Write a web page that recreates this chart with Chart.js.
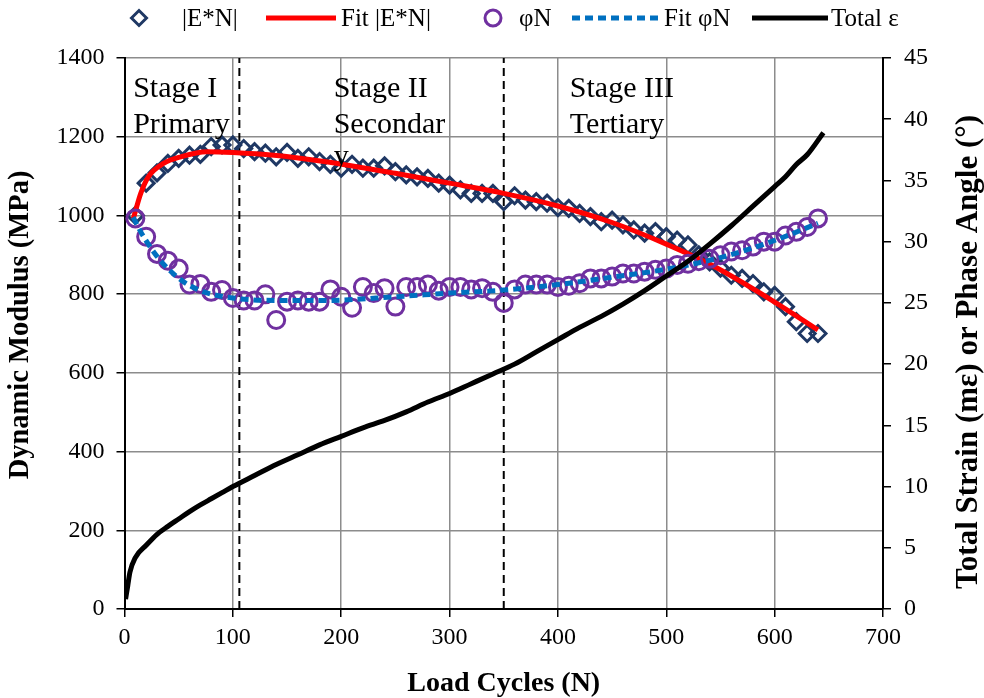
<!DOCTYPE html>
<html><head><meta charset="utf-8">
<script src="https://cdn.jsdelivr.net/npm/chart.js@4.4.1/dist/chart.umd.min.js"></script>
<style>html,body{margin:0;padding:0;background:#fff}#wrap{width:984px;height:698px}</style>
</head><body><div id="wrap"><canvas id="c" width="984" height="698"></canvas></div>
<script>
// ---------- DATA ----------
const cycles = [10,20,30,40,50,60,70,80,90,100,110,120,130,140,150,160,170,180,190,200,
  210,220,230,240,250,260,270,280,290,300,310,320,330,340,350,360,370,380,390,400,
  410,420,430,440,450,460,470,480,490,500,510,520,530,540,550,560,570,580,590,600,
  610,620,630,640];
const modulus = [1000,1082,1108,1132,1145,1153,1155,1175,1179,1179,1170,1162,1158,1149,1160,1145,1149,1137,1130,1120,
  1130,1120,1120,1126,1111,1103,1098,1094,1082,1077,1065,1056,1056,1056,1035,1050,1039,1035,1031,1020,
  1018,1005,997,984,988,976,963,955,959,946,937,925,900,882,866,848,840,827,806,797,
  768,730,700,700];
const phaseAngle = [31.9,30.4,29.0,28.45,27.8,26.5,26.55,25.9,26.05,25.4,25.2,25.2,25.7,23.6,25.1,25.2,25.1,25.1,26.1,25.5,
  24.6,26.3,25.8,26.2,24.7,26.3,26.3,26.5,26.0,26.3,26.3,26.1,26.2,25.9,25.0,26.1,26.5,26.5,26.5,26.3,
  26.4,26.6,27.0,27.0,27.15,27.4,27.4,27.55,27.7,27.8,28.1,28.2,28.4,28.6,28.9,29.2,29.3,29.6,30.0,30.0,
  30.5,30.8,31.2,31.9];
const fitModCycles = [8,10,15,22,36,52,76,100,138,184,250,300,350,400,450,500,543,600,640];
const fitModValues = [990,1010,1056,1098,1132,1149,1162,1160,1153,1137,1107,1082,1056,1024,982,927,872,780,709];
const fitPhaseCycles = [8,15,22,30,40,55,73,100,140,185,250,300,350,400,450,500,550,600,640];
const fitPhaseValues = [32.0,30.8,29.8,28.8,27.8,26.7,25.9,25.4,25.2,25.2,25.5,25.8,26.05,26.5,27.1,27.75,28.7,30.1,31.5];
const strainCycles = [1,3,5,10,20,30,40,50,60,70,80,90,100,120,140,160,180,200,220,240,260,280,300,
  320,340,360,380,400,420,440,460,480,500,520,540,560,580,600,610,620,630,645];
const strainValues = [0.8,1.9,3.0,4.2,5.2,6.1,6.75,7.35,7.95,8.5,9.0,9.5,10.0,10.9,11.8,12.6,13.4,14.1,14.8,15.4,16.1,16.9,17.6,
  18.4,19.2,20.0,21.0,22.0,23.0,23.9,24.9,26.0,27.2,28.4,29.8,31.3,32.9,34.5,35.3,36.3,37.1,38.9];
const stageBounds = [106, 350];
const stageNames = [["Stage I","Primary"],["Stage II","Secondar","y"],["Stage III","Tertiary"]];
const stageLabelX = [8, 193, 411];
const xTicks = [0,100,200,300,400,500,600,700];
const yTicks = [0,200,400,600,800,1000,1200,1400];
const y2Ticks = [0,5,10,15,20,25,30,35,40,45];
const seriesNames = ["|E*N|","Fit |E*N|","φN","Fit φN","Total ε"];

// ---------- STYLE ----------
const FONT = "'Liberation Serif','Times New Roman',serif";
const NAVY = '#1F3864', RED = '#FF0000', PURPLE = '#7030A0', BLUE = '#0070C0';
const xy = (xs, ys) => xs.map((x, i) => ({x, y: ys[i]}));

const overlay = {
  id: 'overlay',
  afterDraw(chart) {
    const {ctx, chartArea, scales} = chart;
    ctx.save();
    ctx.fillStyle = '#000';
    // stage labels
    ctx.font = `30px ${FONT}`;
    ctx.textAlign = 'left'; ctx.textBaseline = 'middle';
    stageNames.forEach((lines, i) => {
      const px = scales.x.getPixelForValue(stageLabelX[i]);
      lines.forEach((t, j) => {
        const py = chartArea.top + 31 + j * (j === 2 ? 34 : 36);
        ctx.fillText(t, px, py);
      });
    });
    // vertical axis titles (bottom-to-top)
    const vTitle = (text, size, x, y) => {
      ctx.save();
      ctx.font = `bold ${size}px ${FONT}`;
      ctx.textAlign = 'center'; ctx.textBaseline = 'middle';
      ctx.translate(x, y);
      ctx.rotate(-Math.PI / 2);
      ctx.fillText(text, 0, 0);
      ctx.restore();
    };
    vTitle('Dynamic Modulus (MPa)', 28.5, 21, 325);
    vTitle('Total Strain (mε) or Phase Angle (°)', 31, 969, 352);
    // legend
    const cy = 18;
    const items = [
      {kind:'diamond', c:NAVY, sx:139, tx:182},
      {kind:'line', c:RED, sx:266, ex:336, tx:341},
      {kind:'circle', c:PURPLE, sx:493, tx:519},
      {kind:'dash', c:BLUE, sx:572, ex:660, tx:664},
      {kind:'line', c:'#000', sx:752, ex:828, tx:831}
    ];
    ctx.font = `25px ${FONT}`;
    ctx.textAlign = 'left'; ctx.textBaseline = 'middle';
    items.forEach((it, i) => {
      ctx.save();
      ctx.strokeStyle = it.c;
      if (it.kind === 'diamond') {
        ctx.lineWidth = 3;
        ctx.beginPath();
        ctx.moveTo(it.sx - 7.5, cy); ctx.lineTo(it.sx, cy - 7.5);
        ctx.lineTo(it.sx + 7.5, cy); ctx.lineTo(it.sx, cy + 7.5); ctx.closePath(); ctx.stroke();
      } else if (it.kind === 'circle') {
        ctx.lineWidth = 3;
        ctx.beginPath(); ctx.arc(it.sx, cy, 8, 0, Math.PI * 2); ctx.stroke();
      } else {
        ctx.lineWidth = 5;
        if (it.kind === 'dash') ctx.setLineDash([8, 5]);
        ctx.beginPath(); ctx.moveTo(it.sx, cy); ctx.lineTo(it.ex, cy); ctx.stroke();
      }
      ctx.restore();
      ctx.fillText(seriesNames[i], it.tx, cy + 1);
    });
    ctx.restore();
  }
};

const gridCommon = {color: '#8c8c8c', lineWidth: 1.5, tickColor: '#000', tickLength: 8, tickWidth: 1.5};
const tickFont = {family: FONT, size: 24};
const plain = v => String(v);

new Chart(document.getElementById('c'), {
  type: 'scatter',
  data: {
    datasets: [
      {label: seriesNames[0], data: xy(cycles, modulus), yAxisID: 'y', showLine: false,
        pointStyle: 'rectRot', pointRadius: 8, borderWidth: 3, borderColor: NAVY, backgroundColor: 'rgba(0,0,0,0)', order: 5},
      {label: seriesNames[1], data: xy(fitModCycles, fitModValues), yAxisID: 'y', showLine: true,
        pointRadius: 0, borderWidth: 5, borderColor: RED, cubicInterpolationMode: 'monotone', order: 4},
      {label: seriesNames[2], data: xy(cycles, phaseAngle), yAxisID: 'y1', showLine: false,
        pointStyle: 'circle', pointRadius: 8.5, borderWidth: 3, borderColor: PURPLE, backgroundColor: 'rgba(0,0,0,0)', order: 3},
      {label: seriesNames[3], data: xy(fitPhaseCycles, fitPhaseValues), yAxisID: 'y1', showLine: true,
        pointRadius: 0, borderWidth: 5, borderColor: BLUE, borderDash: [8, 5], cubicInterpolationMode: 'monotone', order: 2},
      {label: seriesNames[4], data: xy(strainCycles, strainValues), yAxisID: 'y1', showLine: true,
        pointRadius: 0, borderWidth: 5, borderColor: '#000', cubicInterpolationMode: 'monotone', order: 1},
      ...stageBounds.map(b => ({label: 'stage', data: [{x: b, y: 0}, {x: b, y: 1400}], yAxisID: 'y', showLine: true,
        pointRadius: 0, borderWidth: 2, borderColor: '#000', borderDash: [8, 5], order: 6}))
    ]
  },
  options: {
    responsive: false, animation: false, devicePixelRatio: 1,
    layout: {padding: {top: 58, left: 0, right: 0, bottom: 0}},
    plugins: {legend: {display: false}, tooltip: {enabled: false}},
    scales: {
      x: {type: 'linear', min: 0, max: 700,
        afterBuildTicks: s => { s.ticks = xTicks.map(v => ({value: v})); },
        afterFit: s => { s.height = 89; },
        grid: gridCommon, border: {color: '#000', width: 2},
        ticks: {font: tickFont, color: '#000', padding: 6, maxRotation: 0, callback: plain},
        title: {display: true, text: 'Load Cycles (N)', font: {family: FONT, size: 28, weight: 'bold'}, color: '#000', padding: {top: 0, bottom: -3}}},
      y: {type: 'linear', position: 'left', min: 0, max: 1400,
        afterBuildTicks: s => { s.ticks = yTicks.map(v => ({value: v})); },
        afterFit: s => { s.width = 124.5; },
        grid: gridCommon, border: {color: '#000', width: 2},
        ticks: {font: tickFont, color: '#000', padding: 12, callback: plain},
        title: {display: false}},
      y1: {type: 'linear', position: 'right', min: 0, max: 45,
        afterBuildTicks: s => { s.ticks = y2Ticks.map(v => ({value: v})); },
        afterFit: s => { s.width = 101; },
        grid: {...gridCommon, drawOnChartArea: false}, border: {color: '#000', width: 2},
        ticks: {font: tickFont, color: '#000', padding: 13, callback: plain},
        title: {display: false}}
    }
  },
  plugins: [overlay]
});
</script></body></html>
